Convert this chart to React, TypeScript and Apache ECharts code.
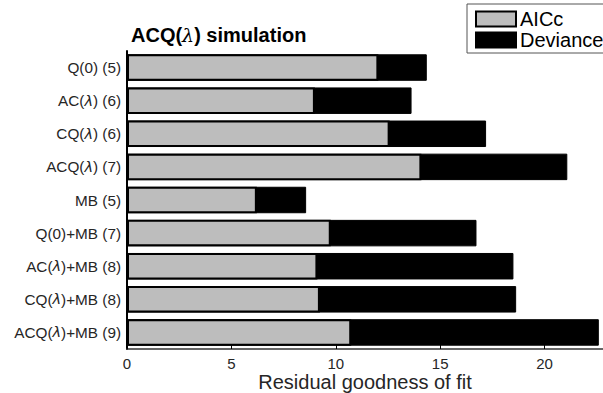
import React, { useEffect, useRef } from "react";
import * as echarts from "echarts";

// Model names with free-parameter counts, listed top to bottom
const models = [
  "Q(0) (5)",
  "AC(λ) (6)",
  "CQ(λ) (6)",
  "ACQ(λ) (7)",
  "MB (5)",
  "Q(0)+MB (7)",
  "AC(λ)+MB (8)",
  "CQ(λ)+MB (8)",
  "ACQ(λ)+MB (9)",
];

// Residual goodness of fit per model
const aiccValues = [12.04, 9.0, 12.58, 14.1, 6.22, 9.76, 9.12, 9.24, 10.74];
const devianceValues = [14.36, 13.63, 17.2, 21.09, 8.58, 16.74, 18.51, 18.64, 22.6];

const xTicks = [0, 5, 10, 15, 20];

const FONT = "'Liberation Sans', Arial, Helvetica, sans-serif";

// wrap λ in a rich-text span so it renders in italics
const withLambda = (s: string) => s.replace(/λ/g, "{l|λ}");

export default function App() {
  const ref = useRef<HTMLDivElement>(null);

  useEffect(() => {
    if (!ref.current) return;
    const chart = echarts.init(ref.current, undefined, { renderer: "svg" });
    chart.setOption({
      animation: false,
      backgroundColor: "#ffffff",
      textStyle: { fontFamily: FONT },
      title: {
        text: "ACQ({l|λ}) simulation",
        left: 126,
        top: 20,
        textStyle: {
          fontFamily: FONT,
          fontSize: 20,
          fontWeight: "bold",
          color: "#000",
          rich: {
            l: { fontFamily: "'DejaVu Serif', serif", fontStyle: "italic", fontSize: 19, fontWeight: "normal", color: "#000" },
          },
        },
      },
      legend: {
        orient: "vertical",
        left: 467,
        top: 4,
        data: ["AICc", "Deviance"],
        itemWidth: 40,
        itemHeight: 15,
        itemGap: 1,
        padding: [5, 3, 3, 8],
        borderColor: "#555",
        borderWidth: 1,
        backgroundColor: "#fff",
        icon: "rect",
        textStyle: { fontFamily: FONT, fontSize: 20, lineHeight: 20, color: "#000", padding: [0, 0, 0, -1] },
      },
      grid: { left: 127, right: 0, top: 51, bottom: 44, containLabel: false, outerBoundsMode: "none" },
      xAxis: {
        type: "value",
        min: 0,
        max: 22.8,
        interval: 5,
        name: "Residual goodness of fit",
        nameLocation: "middle",
        nameGap: 33,
        nameMoveOverlap: false,
        nameTextStyle: { fontFamily: FONT, fontSize: 20, lineHeight: 20, color: "#262626", verticalAlign: "middle" },
        axisLine: { show: true, lineStyle: { color: "#333", width: 1.5 } },
        axisTick: { show: true, inside: true, length: 4, lineStyle: { color: "#000" } },
        axisLabel: {
          fontFamily: FONT,
          fontSize: 15,
          lineHeight: 15,
          color: "#262626",
          margin: 7,
          showMaxLabel: false,
          formatter: (v: number) => (xTicks.includes(v) ? String(v) : ""),
        },
        splitLine: { show: false },
      },
      yAxis: {
        type: "category",
        data: models,
        inverse: true,
        axisLine: { show: true, lineStyle: { color: "#000", width: 2 } },
        axisTick: { show: false },
        axisLabel: {
          fontFamily: FONT,
          fontSize: 15.3,
          color: "#262626",
          margin: 6,
          formatter: (v: string) => withLambda(v),
          rich: {
            l: { fontFamily: "'DejaVu Sans', sans-serif", fontStyle: "italic", fontSize: 14.5, color: "#262626" },
          },
        },
      },
      series: [
        {
          name: "Deviance",
          type: "bar",
          data: devianceValues,
          barWidth: "80%",
          barGap: "-100%",
          itemStyle: { color: "#000", borderColor: "#000", borderWidth: 1 },
        },
        {
          name: "AICc",
          type: "bar",
          data: aiccValues,
          barWidth: "80%",
          barGap: "-100%",
          itemStyle: { color: "#bdbdbd", borderColor: "#000", borderWidth: 2 },
        },
      ],
    });
    return () => chart.dispose();
  }, []);

  return (
    <div
      ref={ref}
      style={{ position: "absolute", left: 0, top: 0, width: 603, height: 393 }}
    />
  );
}
